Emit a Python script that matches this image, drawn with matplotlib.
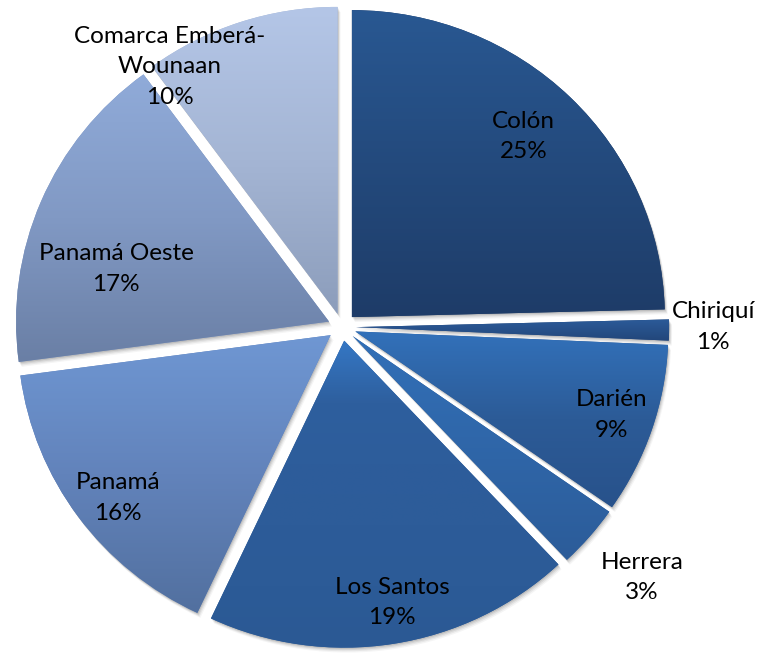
import numpy as np
import matplotlib.pyplot as plt
from matplotlib.colors import LinearSegmentedColormap
from matplotlib.patches import Wedge

# --- data: share of each region (%), clockwise from 12 o'clock ---
regions = ['Colón', 'Chiriquí', 'Darién', 'Herrera', 'Los Santos',
           'Panamá', 'Panamá Oeste', 'Comarca Emberá-\nWounaan']
shares = [24.6, 1.1, 9.0, 3.3, 19.0, 15.9, 17.0, 10.1]

# --- style: vertical gradient (top -> bottom) for each slice ---
fills = [
    ['#295892', '#1e3c68'],
    ['#2c5b99', '#22467a'],
    ['#3271ba', '#2c5b97', '#28528b'],
    ['#3270b8', '#2c5c99'],
    ['#3577c4', '#2e5f9e', '#2d5d9b', '#2d5c99', '#2c5b97', '#2b5994'],
    ['#6f97d3', '#6283bb', '#52709f'],
    ['#90abd9', '#8199c4', '#6a7fa5'],
    ['#b4c6e7', '#a4b5d4', '#8c9dbb'],
]
# label centres in axis units (pie radius = 1)
label_xy = [(0.58, 0.62), (1.186, 0.0), (0.86, -0.287), (0.958, -0.817),
            (0.16, -0.897), (-0.716, -0.557), (-0.722, 0.189), (-0.55, 0.847)]

fig = plt.figure(figsize=(7.62, 6.53), dpi=100)
ax = fig.add_axes([0, 0, 1, 1])

wedges, _ = ax.pie(shares, startangle=90, counterclock=False,
                   explode=[0.045] * len(shares), radius=1.0,
                   wedgeprops=dict(linewidth=0))

ramp = np.linspace(0, 1, 256).reshape(-1, 1)
for w, cols in zip(wedges, fills):
    w.set_facecolor(cols[len(cols) // 2])
    w.set_zorder(2)
    # soft shadow, down and to the right
    for k, a in zip([0.004, 0.008, 0.012, 0.016], [0.10, 0.08, 0.06, 0.04]):
        sh = Wedge((w.center[0] + k * 0.6, w.center[1] - k), w.r,
                   w.theta1, w.theta2, facecolor='black', alpha=a,
                   linewidth=0, zorder=1)
        ax.add_patch(sh)
    # gradient fill clipped to the wedge
    bb = w.get_path().get_extents()
    cmap = LinearSegmentedColormap.from_list('g', cols)
    img = ax.imshow(ramp, cmap=cmap, extent=[bb.x0, bb.x1, bb.y0, bb.y1],
                    origin='upper', aspect='auto', zorder=3,
                    interpolation='bilinear')
    img.set_clip_path(w)

for name, share, (x, y) in zip(regions, shares, label_xy):
    ax.text(x, y, f'{name}\n{share:.0f}%', ha='center', va='center',
            fontsize=17.5, family='Lato', linespacing=1.55, zorder=5)

ax.set_xlim(-342 / 313, (762 - 342) / 313)
ax.set_ylim(-(653 - 327) / 307, 327 / 307)
ax.set_aspect('auto')
ax.axis('off')

fig.savefig('out.png', dpi=100)
